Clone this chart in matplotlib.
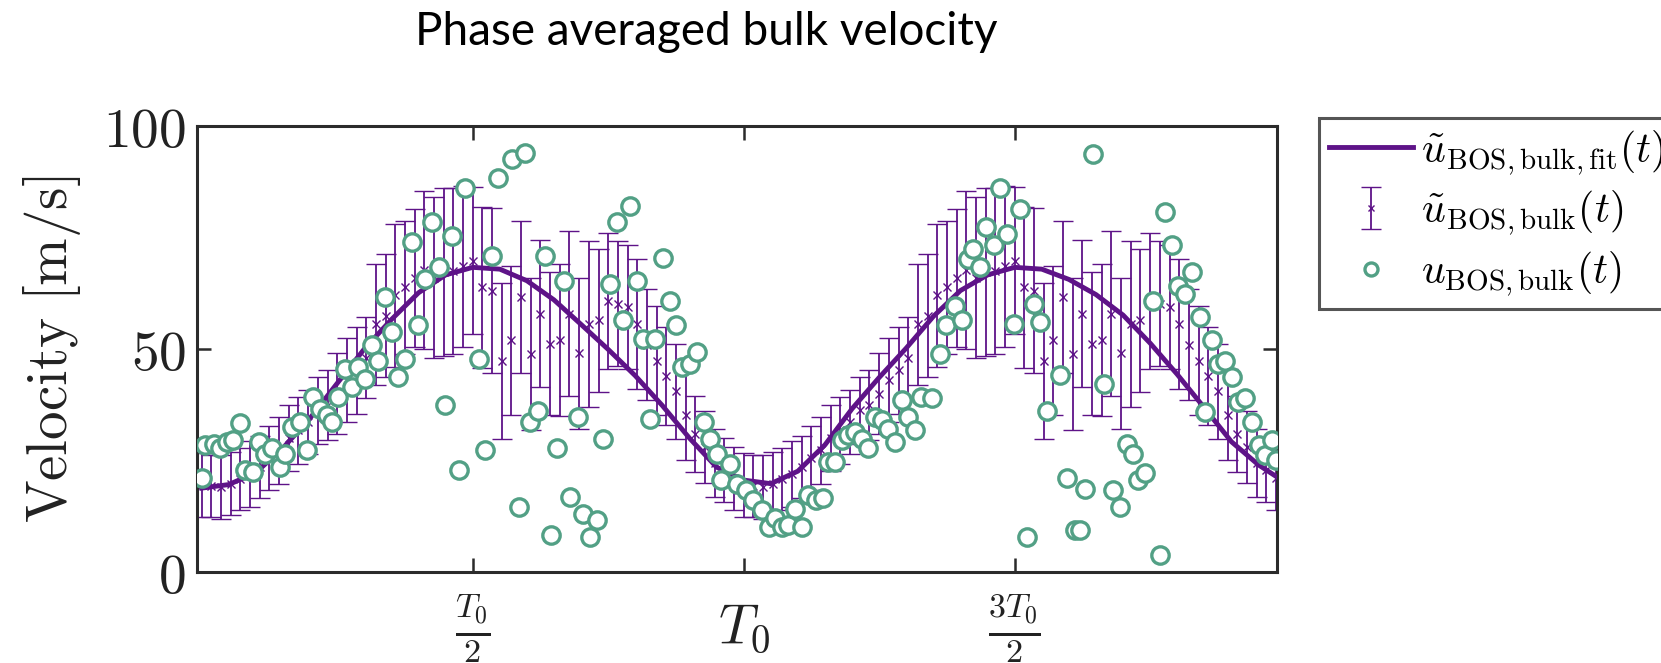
import numpy as np
import matplotlib.pyplot as plt

plt.rcParams['mathtext.fontset'] = 'cm'

# phase averaged samples: 56 per period, the same period is drawn twice
phase = np.arange(56) / 56
bar_mean = [19.5, 19.3, 19.0, 19.8, 20.8, 22.0, 23.5, 25.5, 27.3, 30.0,
            31.8, 33.6, 36.3, 37.5, 40.0, 43.0, 45.2, 48.0, 55.5, 57.5,
            62.0, 63.8, 65.9, 67.7, 66.0, 67.3, 67.5, 68.5, 69.8, 63.8,
            63.1, 47.4, 51.9, 61.6, 48.9, 57.9, 51.2, 52.0, 57.9, 49.0,
            55.6, 56.4, 60.8, 60.1, 59.4, 55.6, 51.0, 47.4, 44.0, 40.5,
            35.3, 31.0, 28.0, 24.4, 22.9, 21.0]
bar_err = [7.2, 7.0, 7.2, 7.0, 7.0, 7.4, 7.0, 7.2, 7.5, 7.4,
           7.5, 7.2, 7.5, 7.8, 9.0, 9.4, 9.7, 9.1, 13.5, 13.8,
           16.0, 15.0, 15.5, 17.7, 18.0, 18.9, 18.6, 18.0, 16.5, 18.0,
           18.4, 17.5, 16.8, 17.0, 17.0, 16.5, 16.0, 17.0, 18.5, 17.0,
           18.6, 16.0, 15.2, 14.0, 14.0, 14.5, 12.5, 12.2, 11.0, 10.6,
           10.3, 8.5, 8.0, 7.6, 7.2, 7.0]

# fitted curve (in units of T0)
fit_t = [0.00, 0.05, 0.10, 0.15, 0.20, 0.25, 0.30, 0.35, 0.40, 0.45,
         0.50, 0.55, 0.60, 0.65, 0.70, 0.75, 0.80, 0.85, 0.90, 0.95,
         1.00, 1.05, 1.10, 1.15, 1.20, 1.25, 1.30, 1.35, 1.40, 1.45,
         1.50, 1.55, 1.60, 1.65, 1.70, 1.75, 1.80, 1.85, 1.90, 1.95, 1.984]
fit_u = [18.8, 19.6, 22.3, 27.8, 34.5, 42.3, 50.0, 56.6, 62.6, 66.6,
         68.3, 67.9, 65.3, 61.0, 55.5, 49.9, 44.0, 37.3, 30.0, 23.5,
         20.6, 19.8, 22.6, 28.5, 36.6, 43.6, 50.2, 57.3, 63.1, 66.6,
         68.3, 67.9, 65.6, 62.2, 57.6, 51.3, 44.3, 36.8, 29.2, 24.0, 21.3]

# single BOS measurements
raw_t = [0.000, 0.006, 0.022, 0.034, 0.046, 0.058, 0.071, 0.080, 0.095, 0.105,
         0.117, 0.129, 0.145, 0.154, 0.166, 0.181, 0.194, 0.206, 0.218, 0.231,
         0.240, 0.252, 0.264, 0.277, 0.289, 0.301, 0.314, 0.326, 0.338, 0.351,
         0.363, 0.375, 0.388, 0.400, 0.412, 0.425, 0.437, 0.449, 0.461, 0.474,
         0.486, 0.511, 0.523, 0.535, 0.547, 0.572, 0.585, 0.597, 0.606, 0.621,
         0.634, 0.645, 0.655, 0.668, 0.680, 0.695, 0.704, 0.716, 0.729, 0.741,
         0.754, 0.766, 0.778, 0.790, 0.803, 0.815, 0.827, 0.837, 0.852, 0.864,
         0.876, 0.886, 0.901, 0.913, 0.926, 0.938, 0.950, 0.959, 0.975, 0.987,
         1.005, 1.018, 1.033, 1.046, 1.058, 1.070, 1.082, 1.095, 1.107, 1.119,
         1.134, 1.147, 1.156, 1.169, 1.181, 1.193, 1.206, 1.218, 1.230, 1.242,
         1.255, 1.267, 1.279, 1.292, 1.304, 1.316, 1.328, 1.347, 1.362, 1.374,
         1.390, 1.402, 1.414, 1.424, 1.436, 1.448, 1.461, 1.473, 1.485, 1.498,
         1.510, 1.522, 1.535, 1.547, 1.559, 1.584, 1.596, 1.612, 1.620, 1.630,
         1.645, 1.665, 1.682, 1.694, 1.707, 1.719, 1.728, 1.740, 1.756, 1.768,
         1.777, 1.790, 1.802, 1.814, 1.827, 1.842, 1.851, 1.864, 1.876, 1.888,
         1.901, 1.913, 1.925, 1.938, 1.950, 1.962, 1.974, 1.983]
raw_u = [21.0, 28.4, 28.8, 27.7, 29.2, 29.5, 33.3, 22.8, 22.4, 29.2,
         26.5, 27.7, 23.6, 26.5, 32.5, 33.6, 27.3, 39.2, 36.6, 35.1,
         33.6, 39.2, 45.6, 41.5, 45.9, 43.3, 50.8, 47.4, 61.6, 53.8,
         43.7, 47.8, 73.9, 55.3, 65.7, 78.4, 68.3, 37.4, 75.4, 22.8,
         86.2, 47.8, 27.3, 70.9, 88.4, 92.5, 14.6, 94.0, 33.6, 36.2,
         70.9, 8.3, 27.7, 65.3, 16.9, 34.8, 13.1, 7.9, 11.6, 29.9,
         64.6, 78.4, 56.4, 82.1, 65.3, 52.3, 34.4, 52.3, 70.5, 60.8,
         55.3, 45.9, 46.7, 49.3, 33.6, 29.9, 26.5, 20.6, 24.3, 19.8,
         18.3, 16.1, 13.9, 10.1, 12.0, 10.1, 10.5, 14.2, 10.1, 17.2,
         16.1, 16.5, 24.7, 24.7, 29.5, 30.6, 31.4, 29.9, 27.7, 34.8,
         34.0, 32.1, 29.2, 38.5, 34.8, 31.8, 39.2, 38.9, 48.9, 55.3,
         59.7, 56.4, 70.2, 72.4, 68.3, 77.3, 73.2, 86.2, 75.8, 55.6,
         81.4, 7.9, 60.1, 56.0, 36.2, 44.1, 21.0, 9.4, 9.4, 18.7,
         93.7, 42.2, 18.3, 14.6, 28.8, 26.5, 20.6, 22.1, 60.8, 3.8,
         80.6, 73.2, 64.2, 62.3, 67.2, 57.1, 35.9, 51.9, 46.7, 47.4,
         43.7, 38.1, 38.9, 33.6, 28.4, 26.2, 29.5, 25.1]

purple = '#5e1388'
green = '#52a085'
dark = '#2b2b2b'

fig = plt.figure(figsize=(16.61, 6.63), dpi=100)
ax = fig.add_axes([0.1186, 0.1373, 0.6502, 0.6727])

t_bar = np.concatenate([phase, phase + 1])
eb = ax.errorbar(t_bar, np.tile(bar_mean, 2), yerr=np.tile(bar_err, 2),
                 fmt='x', color=purple, ms=6, mew=1.0, elinewidth=1.3,
                 capsize=7, capthick=1.3, zorder=2)
fit_line, = ax.plot(fit_t, fit_u, color=purple, lw=3.5, zorder=3)
raw_pts, = ax.plot(raw_t, raw_u, 'o', mfc='white', mec=green, ms=12.5,
                   mew=2.4, zorder=4)

ax.set_xlim(-0.0087, 1.984)
ax.set_ylim(0, 100)
ax.set_xticks([0.5, 1.0, 1.5], [r'$\frac{T_0}{2}$', r'$T_0$', r'$\frac{3T_0}{2}$'])
ax.set_yticks([0, 50, 100], ['$0$', '$50$', '$100$'])
ax.tick_params(direction='in', length=10, width=1.8, top=True, right=True,
               labelsize=40, color=dark, labelcolor='#222222')
ax.tick_params(axis='x', pad=41)
ax.tick_params(axis='y', pad=8)
xlabels = ax.get_xticklabels()
for lbl in xlabels:
    lbl.set_va('center')
# the fractions are drawn smaller so they fit like in the original
xlabels[0].set_fontsize(35)
xlabels[2].set_fontsize(35)
for sp in ax.spines.values():
    sp.set_linewidth(2.2)
    sp.set_color(dark)
ax.set_ylabel(r'$\mathrm{Velocity}\ [\mathrm{m/s}]$', fontsize=41,
              color='#222222', labelpad=14)

fig.text(0.425, 0.952, 'Phase averaged bulk velocity', ha='center',
         va='center', fontsize=33, family='Lato')

leg = fig.legend([fit_line, eb, raw_pts],
                 [r'$\tilde{u}_{\mathrm{BOS,bulk,fit}}(t)$',
                  r'$\tilde{u}_{\mathrm{BOS,bulk}}(t)$',
                  r'$u_{\mathrm{BOS,bulk}}(t)$'],
                 loc='upper left', bbox_to_anchor=(1319 / 1661, 1 - 118 / 663),
                 fontsize=30, frameon=True, fancybox=False, edgecolor=dark,
                 borderpad=0.25, labelspacing=0.3, handlelength=2.0,
                 handletextpad=0.2, borderaxespad=0, markerscale=0.75)
leg.get_frame().set_linewidth(2.2)

fig.savefig('out.png', dpi=100)
